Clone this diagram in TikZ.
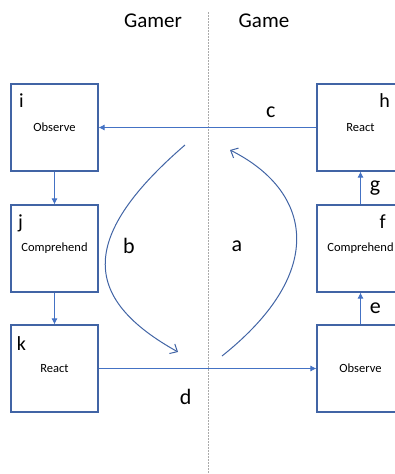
\documentclass[tikz,border=0pt]{standalone}
\usepackage{fontspec}
\setmainfont{Carlito}
\usetikzlibrary{arrows.meta,positioning}
\definecolor{boxblue}{RGB}{65,100,165}
\definecolor{lineblue}{RGB}{68,114,196}
\definecolor{divgray}{RGB}{170,170,170}
\tikzset{bx/.style = {draw=boxblue, line width=1.1pt, minimum width=87pt, minimum height=87pt, inner sep=0pt, font=\fontsize{12.5}{14}\selectfont},
           lt/.style = {inner sep=0pt, font=\fontsize{20}{22}\selectfont},
           el/.style = {inner sep=0pt, font=\fontsize{22}{24}\selectfont},
           hd/.style = {inner sep=0pt, font=\fontsize{21}{24}\selectfont},
           fl/.style = {->, draw=lineblue, line width=0.8pt},
           cv/.style = {-{Straight Barb[length=6pt,width=11pt]}, draw=boxblue, line width=1pt}}

\begin{document}
\begin{tikzpicture}[x=1pt, y=-1pt, >={Latex[length=6pt,width=6pt]}]
    \useasboundingbox (0,0) rectangle (395,474);
    % divider
    \coordinate (top) at (208,12); \coordinate (bot) at (208,474);
    \draw[divgray, line width=1pt, dash pattern=on 1.5pt off 1.5pt] (top) -- (bot);
    \node[hd] (gamer) at (153,21) {Gamer};
    \node[hd] (game) at (264,21) {Game};
    % gamer side
    \node[bx] (i) at (54.5,127.5) {Observe};
    \node[bx] (j) at (54.5,248.5) {Comprehend};
    \node[bx] (k) at (54.5,368.5) {React};
    \node[lt] (li) at ([shift={(11,17)}]i.north west) {i};
    \node[lt] (lj) at ([shift={(10,19)}]j.north west) {j};
    \node[lt] (lk) at ([shift={(11,19)}]k.north west) {k};
    % game side
    \node[bx] (h) at (360.5,127.5) {React};
    \node[bx] (f) at (360.5,248.5) {Comprehend};
    \node[bx] (o) at (360.5,368.5) {Observe};
    \node[lt] (lh) at ([shift={(-20,17)}]h.north east) {h};
    \node[lt] (lf) at ([shift={(-22,17)}]f.north east) {f};
    % connectors
    \draw[fl] (i) -- (j);
    \draw[fl] (j) -- (k);
    \draw[fl] (o) -- node[el, right=9pt] (e) {e} (f);
    \draw[fl] (f) -- node[el, right=9pt] (g) {g} (h);
    \draw[fl] (h) -- node[el, pos=.21, above=9pt] (c) {c} (i);
    \draw[fl] (k) -- node[el, pos=.40, below=20pt] (d) {d} (o);
    % loop
    \coordinate (b1) at (185,145); \coordinate (b2) at (178,352);
    \coordinate (a1) at (222,356); \coordinate (a2) at (230,150);
    \draw[cv] (b1) .. controls (75,240) and (85,300) .. (b2);
    \draw[cv] (a1) .. controls (330,270) and (310,190) .. (a2);
    \node[el] (b) at (129,246) {b};
    \node[el] (a) at (237,246) {a};
\end{tikzpicture}
\end{document}
